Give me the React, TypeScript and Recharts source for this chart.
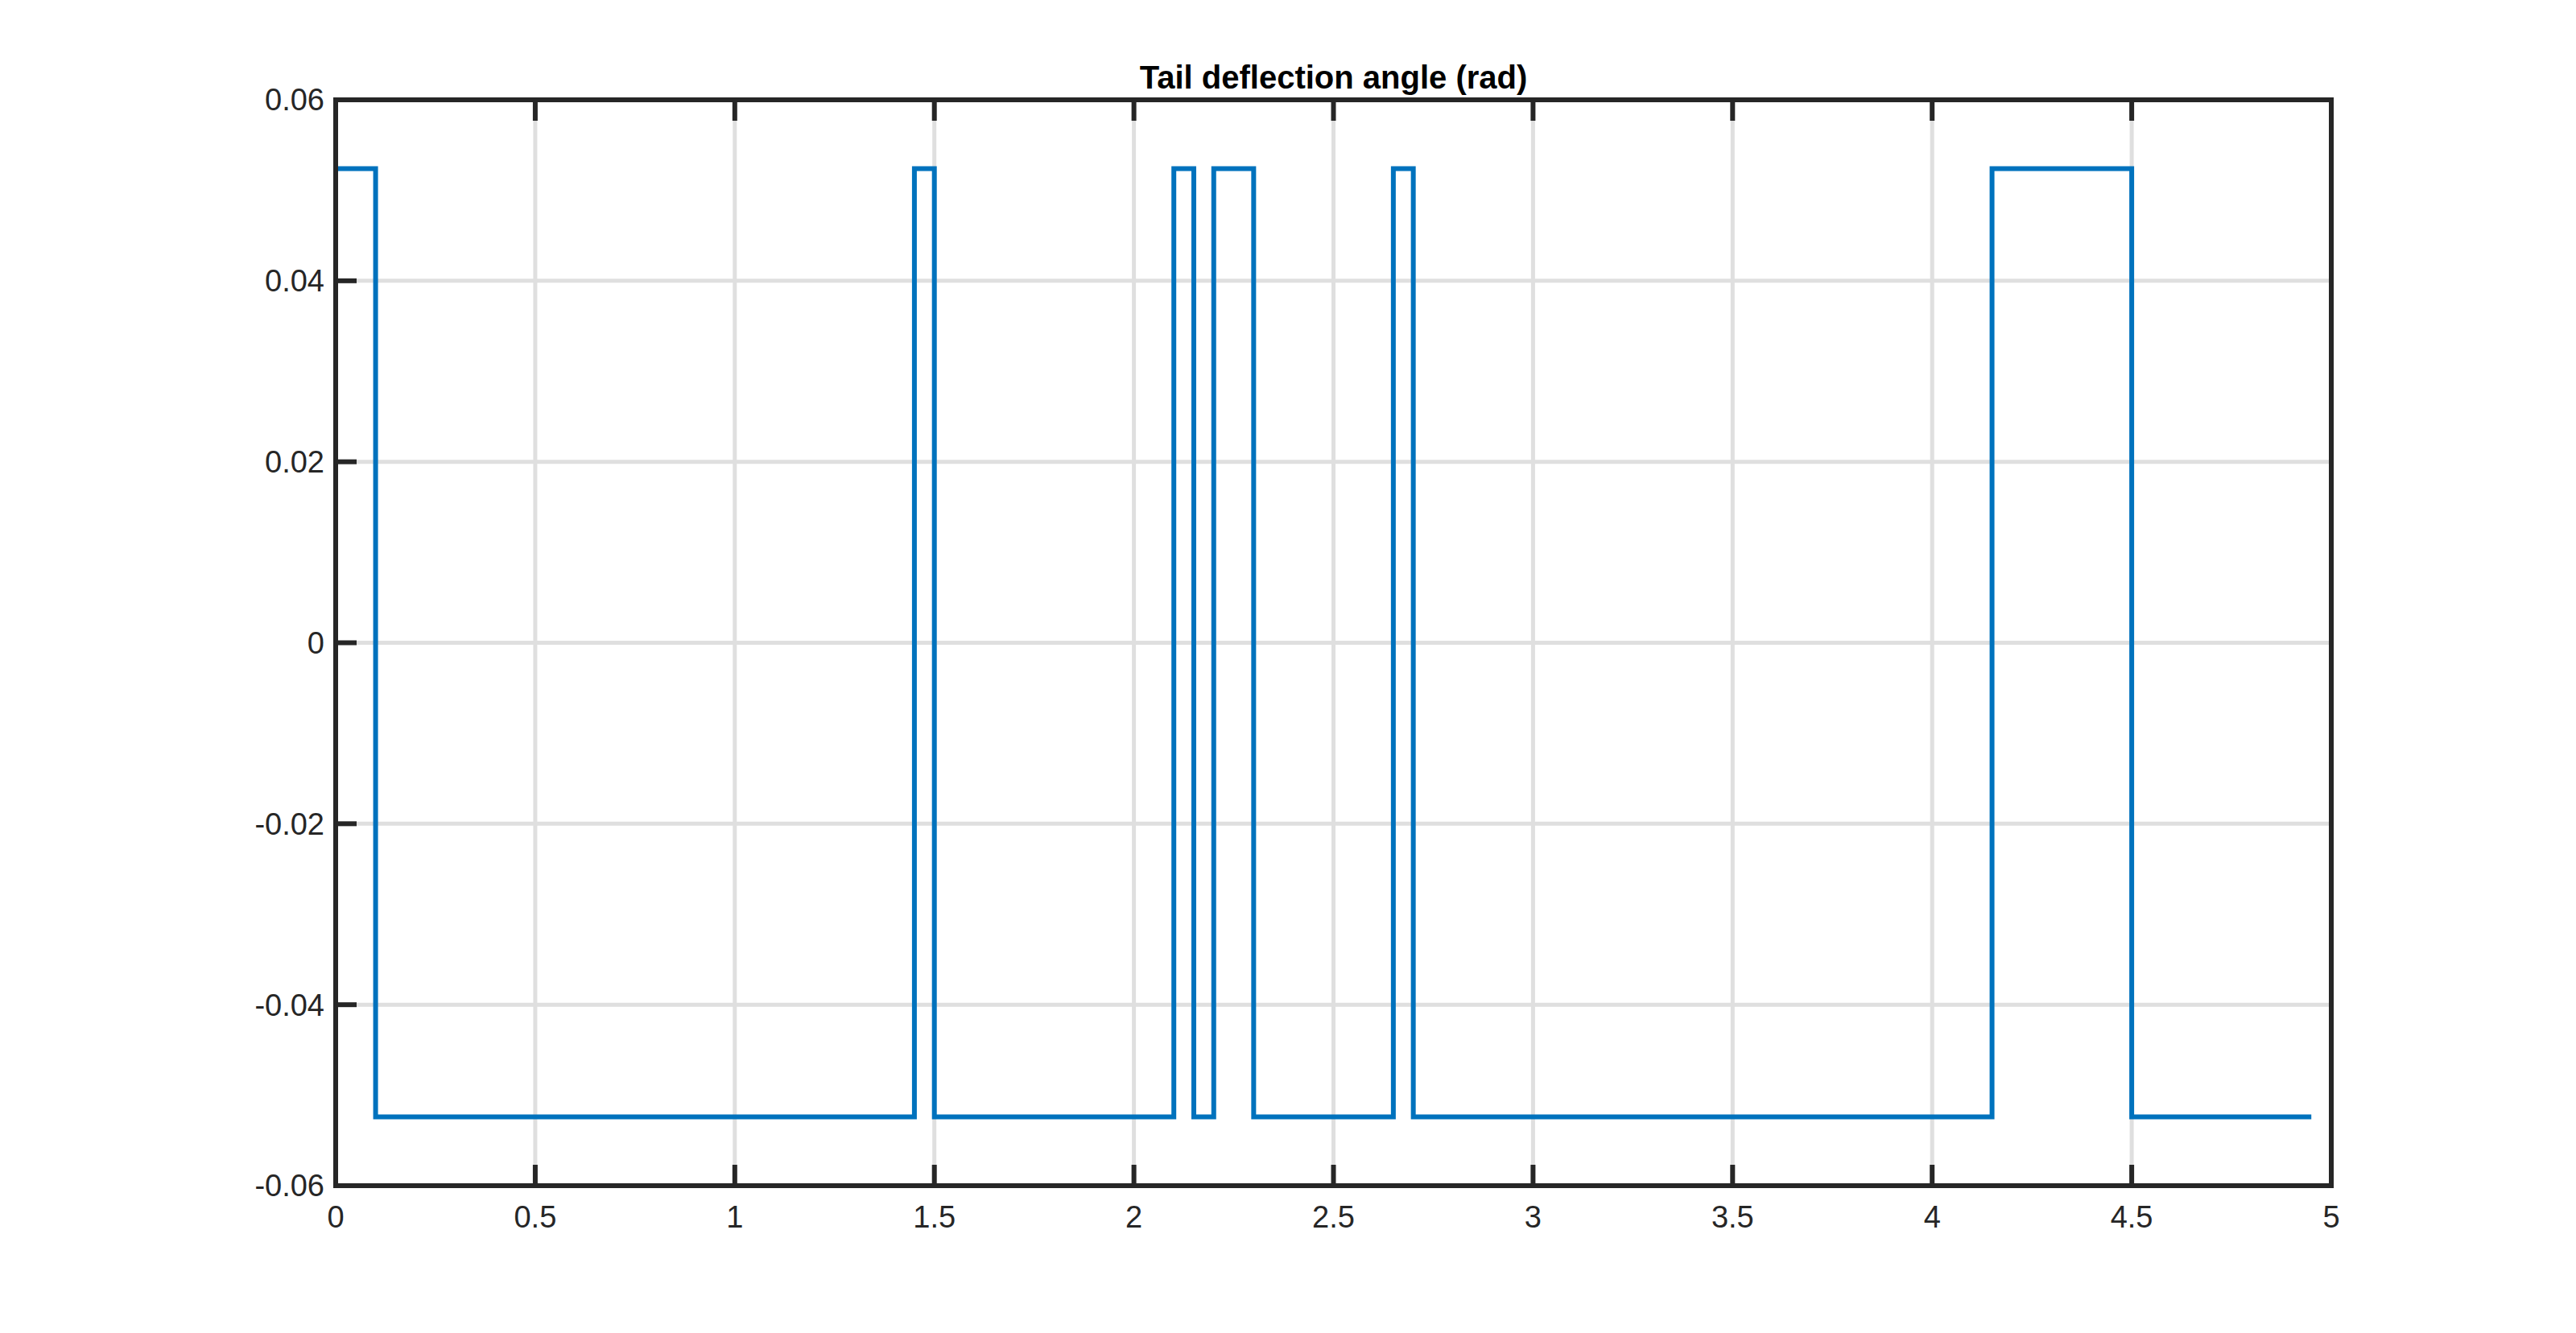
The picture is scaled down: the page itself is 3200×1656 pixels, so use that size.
import React from "react";
import { LineChart, Line, XAxis, YAxis, CartesianGrid } from "recharts";

// switching instants (s) and the tail deflection held from each instant (rad)
const switchTimes = [0, 0.1, 1.45, 1.5, 2.1, 2.15, 2.2, 2.3, 2.65, 2.7, 4.15, 4.5, 4.95];
const deflection = [
  0.0524, -0.0524, 0.0524, -0.0524, 0.0524, -0.0524, 0.0524, -0.0524, 0.0524, -0.0524,
  0.0524, -0.0524, -0.0524,
];
const xTicks = [0, 0.5, 1, 1.5, 2, 2.5, 3, 3.5, 4, 4.5, 5];
const yTicks = [-0.06, -0.04, -0.02, 0, 0.02, 0.04, 0.06];

const data = switchTimes.map((t, i) => ({ t, angle: deflection[i] }));

const FONT = '"Liberation Sans", Arial, Helvetica, sans-serif';
const INK = "#262626";
const TICK_LEN = 26;
const X_GAP = 25;
const Y_GAP = 14;

const BottomTick = (props: any) => {
  const { x, y, payload } = props;
  return (
    <g>
      <line x1={x} x2={x} y1={y - X_GAP} y2={y - X_GAP - TICK_LEN} stroke={INK} strokeWidth={6} />
      <text x={x} y={y} dy="0.71em" textAnchor="middle" fontSize={38} fontFamily={FONT} fill={INK}>
        {String(payload.value)}
      </text>
    </g>
  );
};

const TopTick = (props: any) => {
  const { x, y } = props;
  return <line x1={x} x2={x} y1={y} y2={y + TICK_LEN} stroke={INK} strokeWidth={6} />;
};

const LeftTick = (props: any) => {
  const { x, y, payload } = props;
  const v = payload.value;
  return (
    <g>
      <line x1={x + Y_GAP} x2={x + Y_GAP + TICK_LEN} y1={y} y2={y} stroke={INK} strokeWidth={6} />
      <text x={x} y={y} dy="0.355em" textAnchor="end" fontSize={38} fontFamily={FONT} fill={INK}>
        {v === 0 ? "0" : v.toFixed(2)}
      </text>
    </g>
  );
};

const RightTick = (props: any) => {
  const { x, y } = props;
  return <line x1={x} x2={x - TICK_LEN} y1={y} y2={y} stroke={INK} strokeWidth={6} />;
};

const frame = { stroke: INK, strokeWidth: 6, strokeLinecap: "square" as const };

export default function App() {
  return (
    <div style={{ position: "absolute", left: 0, top: 0, width: 3200, height: 1656, background: "#fff" }}>
      <div
        style={{
          position: "absolute",
          left: 417,
          top: 76,
          width: 2479,
          textAlign: "center",
          fontFamily: FONT,
          fontWeight: "bold",
          fontSize: 40,
          lineHeight: "40px",
          color: "#000",
        }}
      >
        Tail deflection angle (rad)
      </div>
      <LineChart
        width={3200}
        height={1656}
        data={data}
        margin={{ top: 114, right: 294, bottom: 103, left: 297 }}
      >
        <CartesianGrid stroke="#dfdfdf" strokeWidth={5} />
        <XAxis
          dataKey="t"
          type="number"
          domain={[0, 5]}
          ticks={xTicks}
          interval={0}
          height={80}
          tickSize={0}
          tickMargin={X_GAP}
          tickLine={false}
          axisLine={frame}
          tick={<BottomTick />}
        />
        <XAxis
          xAxisId="top"
          orientation="top"
          dataKey="t"
          type="number"
          domain={[0, 5]}
          ticks={xTicks}
          interval={0}
          height={10}
          tickSize={0}
          tickMargin={0}
          tickLine={false}
          axisLine={frame}
          tick={<TopTick />}
        />
        <YAxis
          type="number"
          domain={[-0.06, 0.06]}
          ticks={yTicks}
          interval={0}
          width={120}
          tickSize={0}
          tickMargin={Y_GAP}
          tickLine={false}
          axisLine={frame}
          tick={<LeftTick />}
        />
        <YAxis
          yAxisId="right"
          orientation="right"
          type="number"
          domain={[-0.06, 0.06]}
          ticks={yTicks}
          interval={0}
          width={10}
          tickSize={0}
          tickMargin={0}
          tickLine={false}
          axisLine={frame}
          tick={<RightTick />}
        />
        <Line
          type="stepAfter"
          dataKey="angle"
          stroke="#0072BD"
          strokeWidth={6}
          dot={false}
          isAnimationActive={false}
        />
      </LineChart>
    </div>
  );
}
